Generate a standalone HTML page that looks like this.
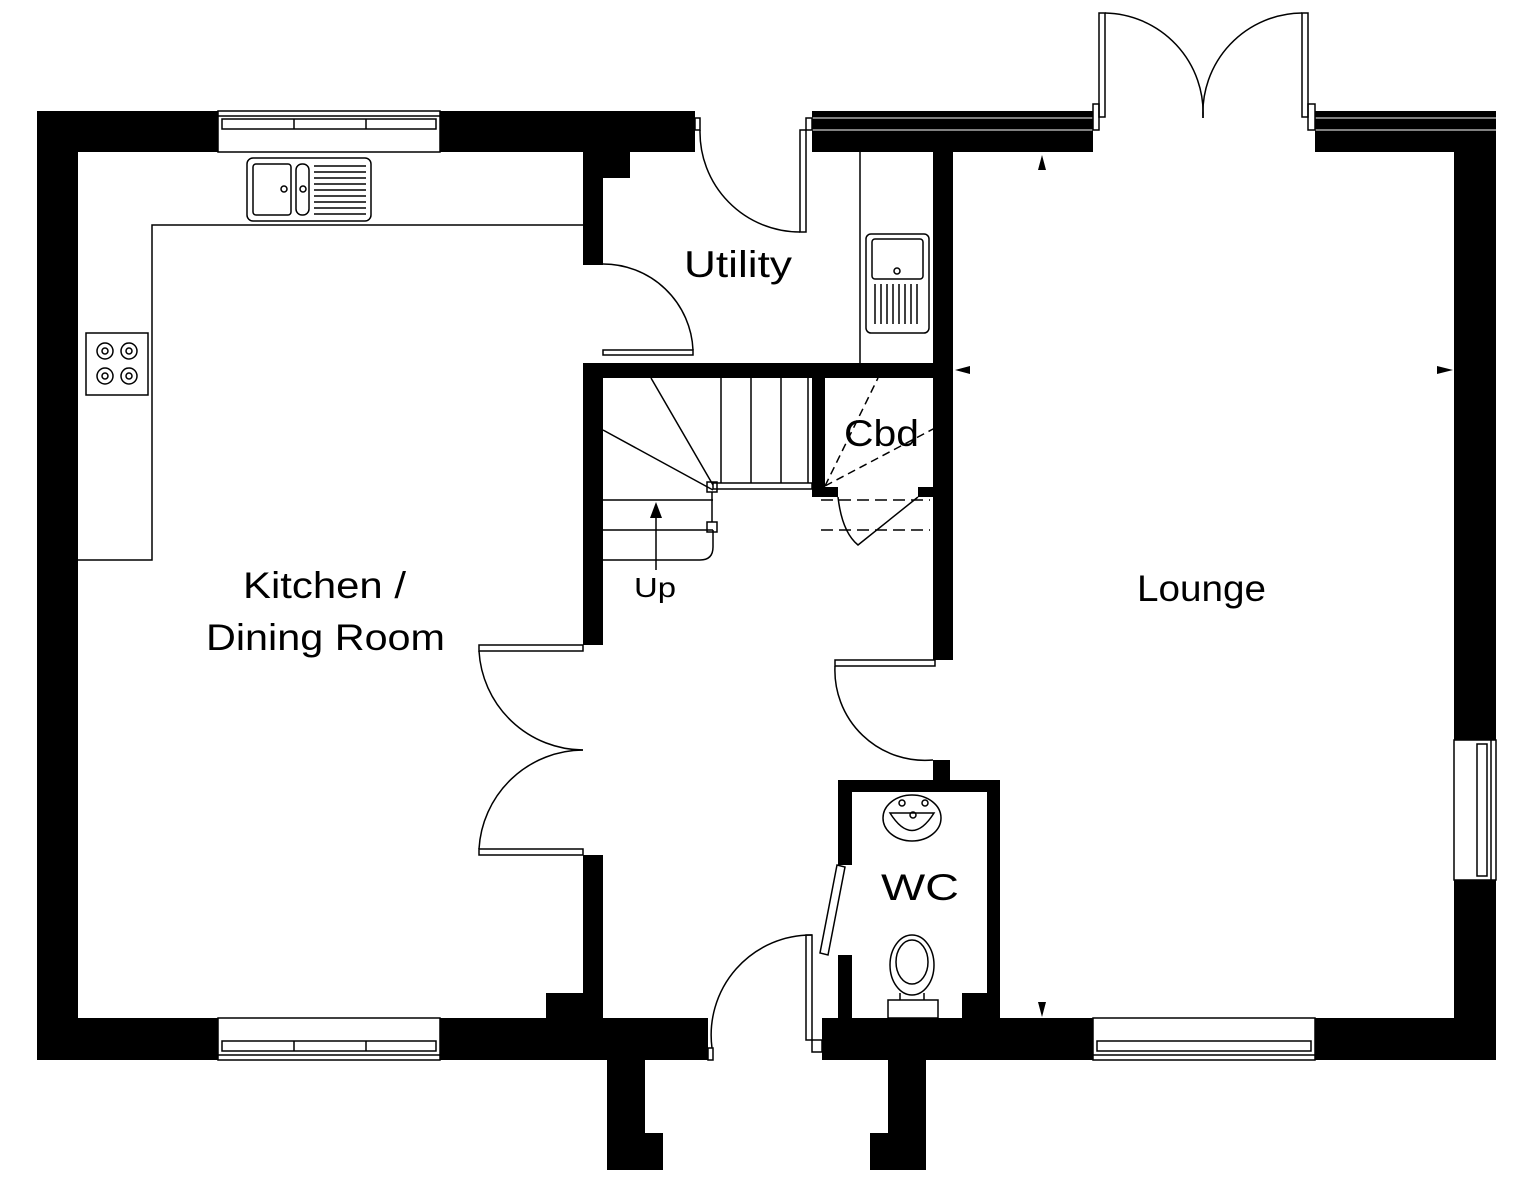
<!DOCTYPE html>
<html><head><meta charset="utf-8"><style>
html,body{margin:0;padding:0;background:#fff;}
svg{display:block}
text{font-family:"Liberation Sans",sans-serif;fill:#000}
</style></head><body>
<svg width="1524" height="1189" viewBox="0 0 1524 1189" xmlns="http://www.w3.org/2000/svg">
<g fill="#000">
<rect x="37" y="111" width="658" height="41"/>
<rect x="37" y="111" width="41" height="949"/>
<rect x="37" y="1018" width="671" height="42"/>
<rect x="822" y="1018" width="674" height="42"/>
<rect x="1454" y="111" width="42" height="949"/>
<rect x="812" y="111" width="281" height="41"/>
<rect x="1315" y="111" width="181" height="41"/>
<rect x="607" y="1060" width="38" height="75"/>
<rect x="607" y="1133" width="56" height="37"/>
<rect x="888" y="1060" width="38" height="75"/>
<rect x="870" y="1133" width="56" height="37"/>
<rect x="583" y="152" width="47" height="26"/>
<rect x="583" y="152" width="20" height="113"/>
<rect x="583" y="363" width="20" height="282"/>
<rect x="583" y="855" width="20" height="163"/>
<rect x="546" y="993" width="57" height="25"/>
<rect x="583" y="363" width="370" height="15"/>
<rect x="933" y="152" width="20" height="508"/>
<rect x="812" y="378" width="13" height="119"/>
<rect x="812" y="487" width="26" height="10"/>
<rect x="918" y="487" width="35" height="10"/>
<rect x="933" y="487" width="20" height="10"/>
<rect x="933" y="760" width="17" height="25"/>
<rect x="838" y="780" width="162" height="12"/>
<rect x="838" y="780" width="14" height="85"/>
<rect x="838" y="955" width="14" height="63"/>
<rect x="987" y="780" width="13" height="238"/>
<rect x="962" y="993" width="38" height="25"/>
</g>
<g fill="#fff" stroke="#000" stroke-width="1.5">
<rect x="218" y="111" width="222" height="41"/>
<rect x="218" y="1018" width="222" height="42"/>
<rect x="1093" y="1018" width="222" height="42"/>
<rect x="1454" y="740" width="42" height="140"/>
</g>
<g fill="none" stroke="#000" stroke-width="1.5">
<line x1="218" y1="116" x2="440" y2="116"/><rect x="222" y="119" width="214" height="10"/><line x1="294" y1="119" x2="294" y2="129"/><line x1="366" y1="119" x2="366" y2="129"/>
<line x1="218" y1="1055" x2="440" y2="1055"/><rect x="222" y="1041" width="214" height="10"/><line x1="294" y1="1041" x2="294" y2="1051"/><line x1="366" y1="1041" x2="366" y2="1051"/>
<line x1="1093" y1="1055" x2="1315" y2="1055"/><rect x="1097" y="1041" width="214" height="10"/>
<line x1="1491" y1="740" x2="1491" y2="880"/><rect x="1477" y="744" width="10" height="132"/>
</g>
<g fill="none" stroke="#fff" stroke-width="1">
<line x1="812" y1="118" x2="1093" y2="118"/><line x1="812" y1="130" x2="1093" y2="130"/>
<line x1="1315" y1="118" x2="1496" y2="118"/><line x1="1315" y1="130" x2="1496" y2="130"/>
</g>
<g fill="none" stroke="#000" stroke-width="1.5">
<polyline points="583,225 152,225 152,560 78,560"/>
<rect x="247" y="158" width="124" height="63" rx="6"/>
<rect x="253" y="164" width="38" height="51" rx="3"/>
<rect x="296" y="164" width="13" height="51" rx="6"/>
<circle cx="284" cy="189" r="3"/><circle cx="303" cy="189" r="3"/>
<path d="M314 166h52M314 172h52M314 178h52M314 184h52M314 190h52M314 196h52M314 202h52M314 208h52M314 214h52"/>
<rect x="86" y="333" width="62" height="62"/>
<circle cx="105" cy="351" r="8"/><circle cx="105" cy="351" r="3"/>
<circle cx="129" cy="351" r="8"/><circle cx="129" cy="351" r="3"/>
<circle cx="105" cy="376" r="8"/><circle cx="105" cy="376" r="3"/>
<circle cx="129" cy="376" r="8"/><circle cx="129" cy="376" r="3"/>
<line x1="860" y1="152" x2="860" y2="363"/>
<rect x="866" y="234" width="63" height="99" rx="5"/>
<rect x="872" y="239" width="51" height="40" rx="3"/>
<circle cx="897" cy="271" r="3"/>
<path d="M875 284v40M881 284v40M887 284v40M893 284v40M899 284v40M905 284v40M911 284v40M917 284v40"/>
<rect x="695" y="118" width="5" height="12"/>
<path d="M700 130 A 100 100 0 0 0 800 232"/>
<rect x="800" y="130" width="6" height="102"/><rect x="806" y="118" width="6" height="12"/>
<path d="M603 264 A 90 90 0 0 1 693 350"/>
<rect x="603" y="350" width="90" height="5"/>
<rect x="1099" y="13" width="6" height="104"/><rect x="1093" y="104" width="6" height="26"/>
<path d="M1105 13 A 100 100 0 0 1 1203 118"/>
<rect x="1302" y="13" width="6" height="104"/><rect x="1308" y="104" width="7" height="26"/>
<path d="M1302 13 A 100 100 0 0 0 1203 118"/>
<rect x="479" y="645" width="104" height="6"/>
<path d="M479 651 A 105 105 0 0 0 583 750"/>
<rect x="479" y="849" width="104" height="6"/>
<path d="M479 849 A 105 105 0 0 1 583 750"/>
<rect x="835" y="660" width="100" height="6"/>
<path d="M835 666 A 90 90 0 0 0 933 760"/>
<path d="M712 1048 A 100 100 0 0 1 812 935"/>
<rect x="708" y="1048" width="5" height="12"/>
<rect x="806" y="935" width="6" height="105"/><rect x="812" y="1040" width="10" height="12"/>
<polygon points="837,865 845,867 828,955 820,953"/>
<line x1="651" y1="378" x2="713" y2="485"/>
<line x1="603" y1="430" x2="713" y2="490"/>
<line x1="603" y1="500" x2="713" y2="500"/>
<line x1="603" y1="530" x2="713" y2="530"/>
<path d="M603 560 H700 Q713 560 713 547 V530"/>
<line x1="721" y1="378" x2="721" y2="483"/><line x1="751" y1="378" x2="751" y2="483"/><line x1="781" y1="378" x2="781" y2="483"/><line x1="808" y1="378" x2="808" y2="483"/>
<rect x="713" y="483" width="99" height="6"/>
<rect x="707" y="482" width="10" height="10"/>
<rect x="707" y="522" width="10" height="10"/>
<line x1="712" y1="492" x2="712" y2="522"/>
<line x1="656" y1="570" x2="656" y2="505"/>
<path d="M825 486 L878 378" stroke-dasharray="8 5"/>
<path d="M825 486 L935 428" stroke-dasharray="8 5"/>
<path d="M821 500 H930 M821 530 H930" stroke-dasharray="12 6"/>
<path d="M838 497 Q842 532 858 545 L918 497"/>
<ellipse cx="912" cy="818" rx="29" ry="23"/>
<path d="M890 813 Q912 848 934 813 Z"/>
<circle cx="902" cy="803" r="3"/><circle cx="925" cy="803" r="3"/><circle cx="913" cy="815" r="3"/>
<ellipse cx="912" cy="965" rx="22" ry="30"/>
<ellipse cx="912" cy="962" rx="16" ry="22"/>
<rect x="888" y="1000" width="50" height="18"/>
<line x1="900" y1="993" x2="900" y2="1000"/><line x1="924" y1="993" x2="924" y2="1000"/>
</g>
<polygon points="656,502 650,518 662,518" fill="#000"/>
<g fill="#000">
<polygon points="1038,170 1042,155 1046,170"/>
<polygon points="1038,1002 1042,1017 1046,1002"/>
<polygon points="970,366 955,370 970,374"/>
<polygon points="1437,366 1453,370 1437,374"/>
</g>
<g font-size="37">
<text x="684" y="277" textLength="108" lengthAdjust="spacingAndGlyphs">Utility</text>
<text x="844" y="446" textLength="75" lengthAdjust="spacingAndGlyphs">Cbd</text>
<text x="243" y="598" textLength="163" lengthAdjust="spacingAndGlyphs">Kitchen /</text>
<text x="206" y="650" textLength="239" lengthAdjust="spacingAndGlyphs">Dining Room</text>
<text x="1137" y="601" textLength="129" lengthAdjust="spacingAndGlyphs">Lounge</text>
<text x="881" y="900" textLength="78" lengthAdjust="spacingAndGlyphs">WC</text>
</g>
<text x="634" y="597" font-size="28" textLength="42" lengthAdjust="spacingAndGlyphs">Up</text>
</svg>
</body></html>
